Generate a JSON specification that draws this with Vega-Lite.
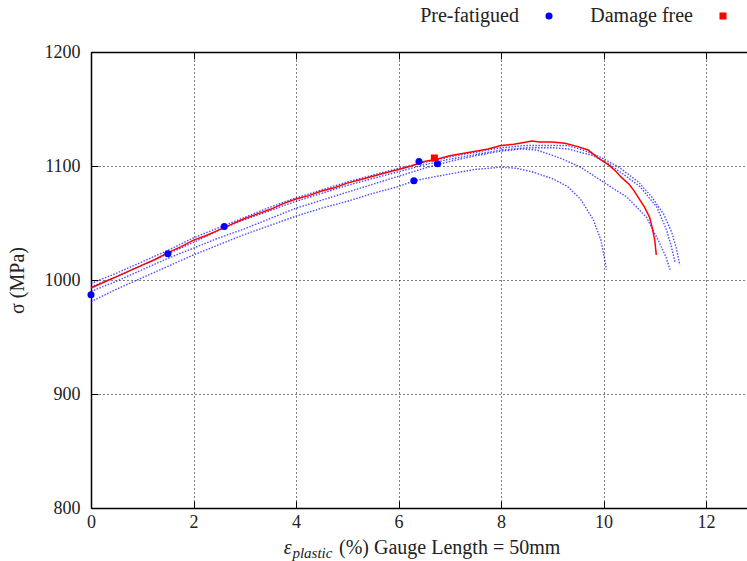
{
  "$schema": "https://vega.github.io/schema/vega-lite/v6.json",
  "width": 656,
  "height": 456,
  "autosize": "none",
  "padding": {"left": 91, "top": 52, "right": 0, "bottom": 53},
  "background": "white",
  "config": {
    "view": {"stroke": null},
    "font": "Liberation Serif",
    "style": {
      "guide-label": {"font": "Liberation Serif", "fill": "#222222"},
      "guide-title": {"font": "Liberation Serif", "fill": "#222222"}
    },
    "axis": {"labelFont": "Liberation Serif", "titleFont": "Liberation Serif"},
    "legend": {"labelFont": "Liberation Serif", "titleFont": "Liberation Serif"}
  },
  "datasets": {
    "curves": [
      {"curve": "R", "strain": 0, "stress": 993},
      {"curve": "R", "strain": 0.25, "stress": 998},
      {"curve": "R", "strain": 0.5, "stress": 1003},
      {"curve": "R", "strain": 0.75, "stress": 1008},
      {"curve": "R", "strain": 1, "stress": 1013},
      {"curve": "R", "strain": 1.25, "stress": 1018},
      {"curve": "R", "strain": 1.5, "stress": 1024},
      {"curve": "R", "strain": 1.75, "stress": 1029},
      {"curve": "R", "strain": 2, "stress": 1035},
      {"curve": "R", "strain": 2.25, "stress": 1039},
      {"curve": "R", "strain": 2.5, "stress": 1044},
      {"curve": "R", "strain": 2.75, "stress": 1049},
      {"curve": "R", "strain": 3, "stress": 1054},
      {"curve": "R", "strain": 3.25, "stress": 1058},
      {"curve": "R", "strain": 3.5, "stress": 1062},
      {"curve": "R", "strain": 3.75, "stress": 1067},
      {"curve": "R", "strain": 4, "stress": 1071},
      {"curve": "R", "strain": 4.25, "stress": 1074},
      {"curve": "R", "strain": 4.5, "stress": 1078},
      {"curve": "R", "strain": 4.75, "stress": 1081},
      {"curve": "R", "strain": 5, "stress": 1085},
      {"curve": "R", "strain": 5.25, "stress": 1088},
      {"curve": "R", "strain": 5.5, "stress": 1091},
      {"curve": "R", "strain": 5.75, "stress": 1094},
      {"curve": "R", "strain": 6, "stress": 1097},
      {"curve": "R", "strain": 6.25, "stress": 1100},
      {"curve": "R", "strain": 6.5, "stress": 1104},
      {"curve": "R", "strain": 6.75, "stress": 1106},
      {"curve": "R", "strain": 7, "stress": 1109},
      {"curve": "R", "strain": 7.25, "stress": 1111},
      {"curve": "R", "strain": 7.5, "stress": 1113},
      {"curve": "R", "strain": 7.75, "stress": 1115},
      {"curve": "R", "strain": 8, "stress": 1118},
      {"curve": "R", "strain": 8.25, "stress": 1119},
      {"curve": "R", "strain": 8.5, "stress": 1121},
      {"curve": "R", "strain": 8.6, "stress": 1122},
      {"curve": "R", "strain": 8.75, "stress": 1121},
      {"curve": "R", "strain": 9, "stress": 1121},
      {"curve": "R", "strain": 9.25, "stress": 1120},
      {"curve": "R", "strain": 9.5, "stress": 1117},
      {"curve": "R", "strain": 9.7, "stress": 1114},
      {"curve": "R", "strain": 9.9, "stress": 1107},
      {"curve": "R", "strain": 10.1, "stress": 1101},
      {"curve": "R", "strain": 10.25, "stress": 1095},
      {"curve": "R", "strain": 10.35, "stress": 1090},
      {"curve": "R", "strain": 10.5, "stress": 1084},
      {"curve": "R", "strain": 10.6, "stress": 1078},
      {"curve": "R", "strain": 10.7, "stress": 1071},
      {"curve": "R", "strain": 10.8, "stress": 1064},
      {"curve": "R", "strain": 10.9, "stress": 1055},
      {"curve": "R", "strain": 10.95, "stress": 1046},
      {"curve": "R", "strain": 11.0, "stress": 1035},
      {"curve": "R", "strain": 11.03, "stress": 1022},

      {"curve": "P1", "strain": 0, "stress": 997},
      {"curve": "P1", "strain": 0.5, "stress": 1006},
      {"curve": "P1", "strain": 1, "stress": 1016},
      {"curve": "P1", "strain": 1.5, "stress": 1026},
      {"curve": "P1", "strain": 2, "stress": 1037},
      {"curve": "P1", "strain": 2.5, "stress": 1046},
      {"curve": "P1", "strain": 3, "stress": 1055},
      {"curve": "P1", "strain": 3.5, "stress": 1064},
      {"curve": "P1", "strain": 4, "stress": 1072},
      {"curve": "P1", "strain": 4.5, "stress": 1079},
      {"curve": "P1", "strain": 5, "stress": 1086},
      {"curve": "P1", "strain": 5.5, "stress": 1092},
      {"curve": "P1", "strain": 6, "stress": 1098},
      {"curve": "P1", "strain": 6.5, "stress": 1103},
      {"curve": "P1", "strain": 7, "stress": 1108},
      {"curve": "P1", "strain": 7.5, "stress": 1112},
      {"curve": "P1", "strain": 8, "stress": 1116},
      {"curve": "P1", "strain": 8.5, "stress": 1118},
      {"curve": "P1", "strain": 9, "stress": 1118},
      {"curve": "P1", "strain": 9.3, "stress": 1118},
      {"curve": "P1", "strain": 9.6, "stress": 1114},
      {"curve": "P1", "strain": 9.93, "stress": 1108},
      {"curve": "P1", "strain": 10.3, "stress": 1099},
      {"curve": "P1", "strain": 10.68, "stress": 1086},
      {"curve": "P1", "strain": 10.94, "stress": 1073},
      {"curve": "P1", "strain": 11.17, "stress": 1058},
      {"curve": "P1", "strain": 11.33, "stress": 1042},
      {"curve": "P1", "strain": 11.42, "stress": 1028},
      {"curve": "P1", "strain": 11.49, "stress": 1013},

      {"curve": "P2", "strain": 0, "stress": 994},
      {"curve": "P2", "strain": 0.5, "stress": 1003},
      {"curve": "P2", "strain": 1, "stress": 1013},
      {"curve": "P2", "strain": 1.5, "stress": 1023},
      {"curve": "P2", "strain": 2, "stress": 1033},
      {"curve": "P2", "strain": 2.6, "stress": 1046},
      {"curve": "P2", "strain": 3, "stress": 1053},
      {"curve": "P2", "strain": 3.5, "stress": 1061},
      {"curve": "P2", "strain": 4, "stress": 1069},
      {"curve": "P2", "strain": 4.5, "stress": 1076},
      {"curve": "P2", "strain": 5, "stress": 1083},
      {"curve": "P2", "strain": 5.5, "stress": 1089},
      {"curve": "P2", "strain": 6, "stress": 1095},
      {"curve": "P2", "strain": 6.5, "stress": 1101},
      {"curve": "P2", "strain": 7, "stress": 1106},
      {"curve": "P2", "strain": 7.5, "stress": 1110},
      {"curve": "P2", "strain": 8, "stress": 1114},
      {"curve": "P2", "strain": 8.5, "stress": 1116},
      {"curve": "P2", "strain": 9, "stress": 1116},
      {"curve": "P2", "strain": 9.3, "stress": 1115},
      {"curve": "P2", "strain": 9.8, "stress": 1109},
      {"curve": "P2", "strain": 10.1, "stress": 1102},
      {"curve": "P2", "strain": 10.32, "stress": 1095},
      {"curve": "P2", "strain": 10.71, "stress": 1082},
      {"curve": "P2", "strain": 11.04, "stress": 1064},
      {"curve": "P2", "strain": 11.23, "stress": 1044},
      {"curve": "P2", "strain": 11.32, "stress": 1030},
      {"curve": "P2", "strain": 11.4, "stress": 1015},

      {"curve": "P3", "strain": 0, "stress": 990},
      {"curve": "P3", "strain": 0.5, "stress": 999},
      {"curve": "P3", "strain": 1, "stress": 1009},
      {"curve": "P3", "strain": 1.5, "stress": 1019},
      {"curve": "P3", "strain": 2, "stress": 1028},
      {"curve": "P3", "strain": 2.5, "stress": 1037},
      {"curve": "P3", "strain": 3, "stress": 1045},
      {"curve": "P3", "strain": 3.5, "stress": 1054},
      {"curve": "P3", "strain": 4, "stress": 1063},
      {"curve": "P3", "strain": 4.5, "stress": 1070},
      {"curve": "P3", "strain": 5, "stress": 1077},
      {"curve": "P3", "strain": 5.5, "stress": 1084},
      {"curve": "P3", "strain": 6, "stress": 1091},
      {"curve": "P3", "strain": 6.5, "stress": 1098},
      {"curve": "P3", "strain": 6.75, "stress": 1101},
      {"curve": "P3", "strain": 7, "stress": 1104},
      {"curve": "P3", "strain": 7.5, "stress": 1109},
      {"curve": "P3", "strain": 8, "stress": 1113},
      {"curve": "P3", "strain": 8.4, "stress": 1115},
      {"curve": "P3", "strain": 8.7, "stress": 1114},
      {"curve": "P3", "strain": 9.15, "stress": 1107},
      {"curve": "P3", "strain": 9.55, "stress": 1099},
      {"curve": "P3", "strain": 9.93, "stress": 1088},
      {"curve": "P3", "strain": 10.2, "stress": 1080},
      {"curve": "P3", "strain": 10.45, "stress": 1073},
      {"curve": "P3", "strain": 10.84, "stress": 1055},
      {"curve": "P3", "strain": 11.1, "stress": 1032},
      {"curve": "P3", "strain": 11.22, "stress": 1020},
      {"curve": "P3", "strain": 11.3, "stress": 1009},

      {"curve": "P4", "strain": 0, "stress": 981},
      {"curve": "P4", "strain": 0.5, "stress": 992},
      {"curve": "P4", "strain": 1, "stress": 1002},
      {"curve": "P4", "strain": 1.5, "stress": 1012},
      {"curve": "P4", "strain": 2, "stress": 1022},
      {"curve": "P4", "strain": 2.5, "stress": 1031},
      {"curve": "P4", "strain": 3, "stress": 1040},
      {"curve": "P4", "strain": 3.5, "stress": 1048},
      {"curve": "P4", "strain": 4, "stress": 1056},
      {"curve": "P4", "strain": 4.5, "stress": 1063},
      {"curve": "P4", "strain": 5, "stress": 1069},
      {"curve": "P4", "strain": 5.5, "stress": 1076},
      {"curve": "P4", "strain": 6, "stress": 1082},
      {"curve": "P4", "strain": 6.3, "stress": 1087},
      {"curve": "P4", "strain": 6.75, "stress": 1091},
      {"curve": "P4", "strain": 7, "stress": 1093},
      {"curve": "P4", "strain": 7.5, "stress": 1097},
      {"curve": "P4", "strain": 8, "stress": 1099},
      {"curve": "P4", "strain": 8.3, "stress": 1098},
      {"curve": "P4", "strain": 8.6, "stress": 1095},
      {"curve": "P4", "strain": 9, "stress": 1089},
      {"curve": "P4", "strain": 9.3, "stress": 1082},
      {"curve": "P4", "strain": 9.55, "stress": 1071},
      {"curve": "P4", "strain": 9.8, "stress": 1053},
      {"curve": "P4", "strain": 9.95, "stress": 1035},
      {"curve": "P4", "strain": 10.06, "stress": 1009}
    ],
    "points": [
      {"series": "Pre-fatigued", "strain": 0, "stress": 987},
      {"series": "Pre-fatigued", "strain": 1.5, "stress": 1023},
      {"series": "Pre-fatigued", "strain": 2.6, "stress": 1047},
      {"series": "Pre-fatigued", "strain": 6.3, "stress": 1087},
      {"series": "Pre-fatigued", "strain": 6.4, "stress": 1104},
      {"series": "Pre-fatigued", "strain": 6.76, "stress": 1102},
      {"series": "Damage free", "strain": 6.7, "stress": 1107}
    ]
  },
  "layer": [
    {
      "data": {"name": "curves"},
      "transform": [{"filter": "datum.curve != 'R'"}],
      "mark": {"type": "line", "color": "#0000ff", "strokeWidth": 1.4, "strokeDash": [1.5, 1.5], "opacity": 0.7},
      "encoding": {
        "x": {"field": "strain", "type": "quantitative", "scale": {"domain": [0, 12.8], "nice": false, "zero": false},
              "axis": {"orient": "bottom", "values": [0, 2, 4, 6, 8, 10, 12], "format": "d", "grid": true, "title": null, "labelFlush": false,
                       "labelFont": "Liberation Serif", "labelFontSize": 18, "labelColor": "#222222", "labelPadding": 12,
                       "domainColor": "black", "domainWidth": 1.5, "tickColor": "black", "tickSize": -7, "tickWidth": 1,
                       "gridColor": "black", "gridDash": [1, 3], "gridOpacity": 1, "gridWidth": 1}},
        "y": {"field": "stress", "type": "quantitative", "scale": {"domain": [800, 1200], "nice": false, "zero": false},
              "axis": {"values": [800, 900, 1000, 1100, 1200], "format": "d", "grid": true, "labelFlush": false,
                       "labelFont": "Liberation Serif", "labelFontSize": 18, "labelColor": "#222222", "labelPadding": 18,
                       "titleFont": "Liberation Serif", "titleFontSize": 20, "titleFontWeight": "normal", "titleColor": "#222222", "titlePadding": 17,
                       "domainColor": "black", "domainWidth": 1.5, "tickColor": "black", "tickSize": -7, "tickWidth": 1,
                       "gridColor": "black", "gridDash": [1, 3], "gridOpacity": 1, "gridWidth": 1},
              "title": "σ (MPa)"},
        "detail": {"field": "curve"}
      }
    },
    {
      "data": {"name": "curves"},
      "transform": [{"filter": "datum.curve == 'R'"}],
      "mark": {"type": "line", "color": "#ff0000", "strokeWidth": 1.5},
      "encoding": {
        "x": {"field": "strain", "type": "quantitative", "scale": {"domain": [0, 12.8], "nice": false, "zero": false},
              "axis": {"orient": "top", "values": [0, 2, 4, 6, 8, 10, 12], "grid": false, "labels": false, "title": null,
                       "domainColor": "black", "domainWidth": 1.5, "tickColor": "black", "tickSize": -7, "tickWidth": 1}},
        "y": {"field": "stress", "type": "quantitative", "scale": {"domain": [800, 1200], "nice": false, "zero": false}, "title": "σ (MPa)"}
      }
    },
    {
      "data": {"name": "points"},
      "mark": {"type": "point", "filled": true, "opacity": 1, "size": 50},
      "encoding": {
        "x": {"field": "strain", "type": "quantitative", "scale": {"domain": [0, 12.8], "nice": false, "zero": false}, "axis": null},
        "y": {"field": "stress", "type": "quantitative", "scale": {"domain": [800, 1200], "nice": false, "zero": false}, "title": "σ (MPa)"},
        "color": {"field": "series", "type": "nominal", "scale": {"domain": ["Pre-fatigued", "Damage free"], "range": ["#0000ff", "#ff0000"]},
                  "legend": {"orient": "none", "legendX": 448, "legendY": -46, "direction": "horizontal", "title": null,
                             "labelFont": "Liberation Serif", "labelFontSize": 20, "labelColor": "#222222", "labelAlign": "right",
                             "labelOffset": -40, "columnPadding": 37, "symbolStrokeWidth": 0, "symbolSize": 50}},
        "shape": {"field": "series", "type": "nominal", "scale": {"domain": ["Pre-fatigued", "Damage free"], "range": ["circle", "square"]}}
      }
    },
    {
      "data": {"values": [{}]},
      "mark": {"type": "text", "text": "ε", "font": "Liberation Serif", "fontSize": 20, "fontStyle": "italic", "align": "left", "baseline": "alphabetic", "dy": 46, "color": "#222222"},
      "encoding": {
        "x": {"datum": 3.76, "type": "quantitative", "scale": {"domain": [0, 12.8], "nice": false, "zero": false}, "axis": null},
        "y": {"datum": 800, "type": "quantitative", "scale": {"domain": [800, 1200], "nice": false, "zero": false}, "title": "σ (MPa)"}
      }
    },
    {
      "data": {"values": [{}]},
      "mark": {"type": "text", "text": "plastic", "font": "Liberation Serif", "fontSize": 15, "fontStyle": "italic", "align": "left", "baseline": "alphabetic", "dy": 50, "color": "#222222"},
      "encoding": {
        "x": {"datum": 3.93, "type": "quantitative", "scale": {"domain": [0, 12.8], "nice": false, "zero": false}, "axis": null},
        "y": {"datum": 800, "type": "quantitative", "scale": {"domain": [800, 1200], "nice": false, "zero": false}, "title": "σ (MPa)"}
      }
    },
    {
      "data": {"values": [{}]},
      "mark": {"type": "text", "text": "(%) Gauge Length = 50mm", "font": "Liberation Serif", "fontSize": 20, "align": "left", "baseline": "alphabetic", "dy": 46, "color": "#222222"},
      "encoding": {
        "x": {"datum": 4.84, "type": "quantitative", "scale": {"domain": [0, 12.8], "nice": false, "zero": false}, "axis": null},
        "y": {"datum": 800, "type": "quantitative", "scale": {"domain": [800, 1200], "nice": false, "zero": false}, "title": "σ (MPa)"}
      }
    }
  ],
  "resolve": {"axis": {"x": "independent"}}
}
